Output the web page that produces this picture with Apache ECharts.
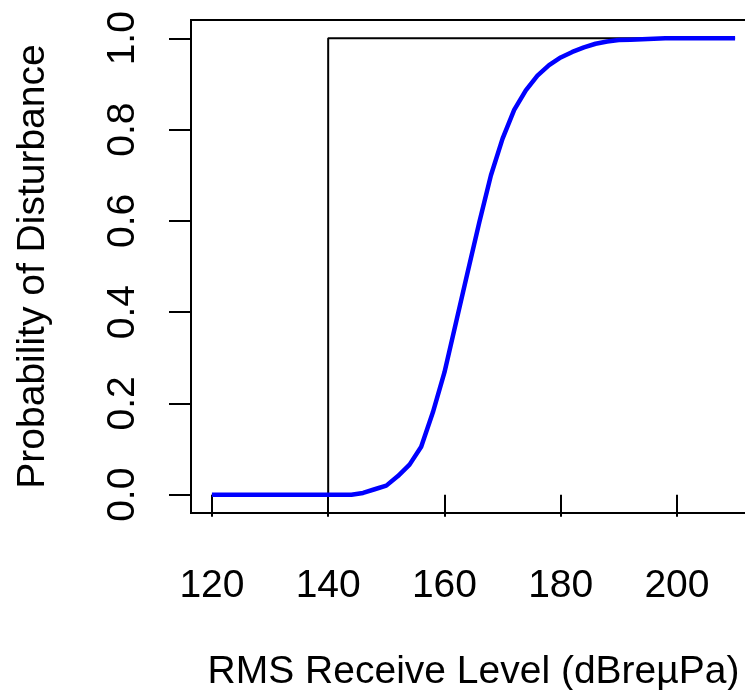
<!DOCTYPE html>
<html>
<head>
<meta charset="utf-8">
<style>
  html, body { margin: 0; padding: 0; background: #fff; }
  #chart { width: 745px; height: 690px; }
</style>
<script src="https://cdn.jsdelivr.net/npm/echarts@6/dist/echarts.min.js"></script>
</head>
<body>
<div id="chart"></div>
<script>
  // received level (dB re 1 µPa) and read-off probability of disturbance
  var levels = [120, 122, 124, 126, 128, 130, 132, 134, 136, 138, 140, 142, 144, 146, 148, 150,
                152, 154, 156, 158, 160, 162, 164, 166, 168, 170, 172, 174, 176, 178, 180, 182,
                184, 186, 188, 190, 192, 194, 196, 198, 200, 202, 204, 206, 208, 210];
  var probDisturb = [0, 0, 0, 0, 0, 0, 0, 0, 0, 0, 0, 0, 0, 0.004, 0.012, 0.02,
                     0.041, 0.066, 0.105, 0.18, 0.268, 0.378, 0.488, 0.597, 0.70, 0.78, 0.843, 0.886, 0.918, 0.941, 0.958, 0.970,
                     0.980, 0.988, 0.993, 0.996, 0.997, 0.998, 0.999, 1, 1, 1, 1, 1, 1, 1];

  // step threshold at 140 dB
  var stepX = [120, 140, 140, 210];
  var stepY = [0, 0, 1, 1];

  var xTicks = [120, 140, 160, 180, 200];
  var yTicks = [0, 0.2, 0.4, 0.6, 0.8, 1.0];

  function pairs(xs, ys) {
    var out = [];
    for (var i = 0; i < xs.length; i++) out.push([xs[i], ys[i]]);
    return out;
  }

  var fontFamily = '"Liberation Sans", Arial, sans-serif';
  var fontSize = 39;

  var chart = echarts.init(document.getElementById('chart'), null, { renderer: 'canvas' });

  var option = {
    animation: false,
    backgroundColor: '#fff',
    grid: {
      // plot box runs past the right edge of the picture
      left: 191,
      top: 20,
      width: 565,
      height: 493,
      show: true,
      borderColor: '#000',
      borderWidth: 2,
      containLabel: false,
      outerBoundsMode: 'none'
    },
    xAxis: {
      type: 'value',
      min: 116.4,
      max: 213.6,
      name: 'RMS Receive Level (dBreµPa)',
      nameLocation: 'middle',
      nameGap: 140,
      nameTextStyle: { fontSize: fontSize, color: '#000', fontFamily: fontFamily },
      axisLine: { show: false },
      splitLine: { show: false },
      axisTick: {
        show: true,
        length: 22,
        customValues: xTicks,
        lineStyle: { color: '#000', width: 2 }
      },
      axisLabel: {
        customValues: xTicks,
        margin: 54,
        fontSize: fontSize,
        color: '#000',
        fontFamily: fontFamily
      }
    },
    yAxis: {
      type: 'value',
      min: -0.04,
      max: 1.04,
      name: 'Probability of Disturbance',
      nameLocation: 'middle',
      nameRotate: 90,
      nameGap: 138,
      nameTextStyle: { fontSize: fontSize, color: '#000', fontFamily: fontFamily },
      axisLine: { show: false },
      splitLine: { show: false },
      axisTick: {
        show: true,
        length: 22,
        customValues: yTicks,
        lineStyle: { color: '#000', width: 2 }
      },
      axisLabel: {
        customValues: yTicks,
        rotate: 90,
        margin: 48,
        fontSize: fontSize,
        color: '#000',
        fontFamily: fontFamily,
        formatter: function (v) { return v.toFixed(1); }
      }
    },
    series: [
      {
        name: 'threshold',
        type: 'line',
        data: pairs(stepX, stepY),
        showSymbol: false,
        lineStyle: { color: '#000', width: 2 },
        z: 2
      },
      {
        name: 'dose-response',
        type: 'line',
        data: pairs(levels, probDisturb),
        showSymbol: false,
        lineStyle: { color: '#0000ff', width: 4.5 },
        z: 3
      }
    ]
  };

  chart.setOption(option);
</script>
</body>
</html>
